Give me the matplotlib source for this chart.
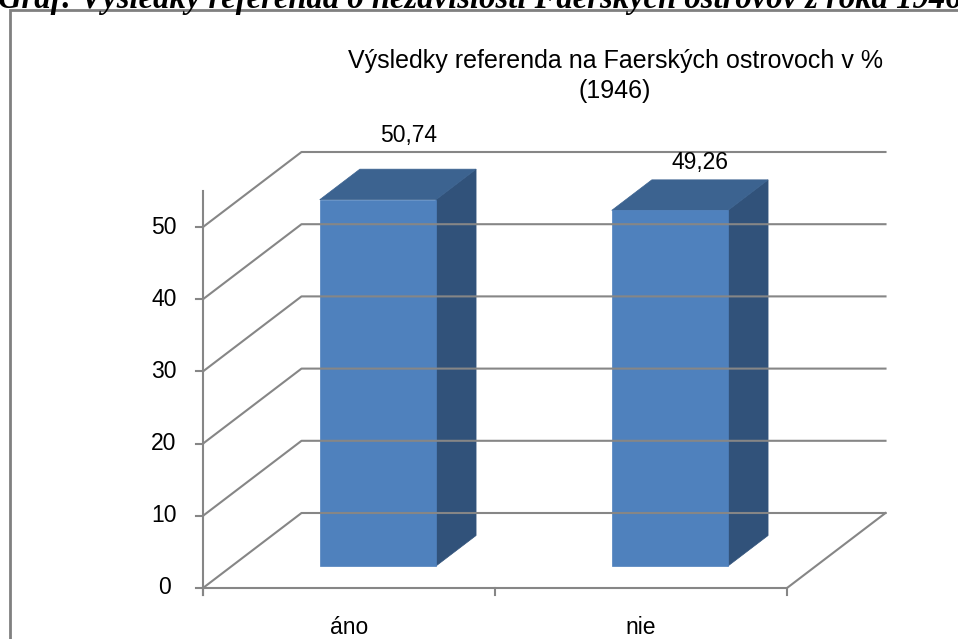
import matplotlib.pyplot as plt
from matplotlib.patches import Polygon, Rectangle

# data
categories = ['áno', 'nie']
values = [50.74, 49.26]
value_labels = ['50,74', '49,26']
y_ticks = [0, 10, 20, 30, 40, 50]
title = 'Výsledky referenda na Faerských ostrovoch v %\n(1946)'
caption = 'Graf: Výsledky referenda o nezávislosti Faerských ostrovov z roka 1946'

W, H = 958, 639
PX_X = 292.0          # pixels per category
PX_Y = 7.22           # pixels per value unit
X0, Y0 = 203, 588     # pixel of (-0.5, 0)
DX = 98.5 / PX_X      # depth offset in category units
DZ = 75 / PX_Y        # depth offset in value units

GRID = '#868686'
FRONT = '#4f81bd'
TOP = '#3c6390'
SIDE = '#31527a'

# label lift above the bar's top back edge, in pixels (Excel dodges the gridline)
label_lift = [34, 17]


def p(x, v, d=0.0):
    # project a point with depth d (0 = front, 1 = back wall)
    return (x + d * DX, v + d * DZ)


def main():
    plt.rcParams['font.family'] = ['Liberation Sans', 'DejaVu Sans']
    fig = plt.figure(figsize=(W / 100, H / 100), dpi=100)
    ax = fig.add_axes([0, 0, 1, 1])
    ax.set_xlim(-0.5 - X0 / PX_X, -0.5 + (W - X0) / PX_X)
    ax.set_ylim(-(H - Y0) / PX_Y, Y0 / PX_Y)
    ax.axis('off')

    xl, xr = -0.5, len(categories) - 0.5

    # gridlines: diagonal on the side wall + horizontal on the back wall
    for v in y_ticks:
        a, b, c = p(xl, v), p(xl, v, 1), p(xr, v, 1)
        ax.plot([a[0], b[0], c[0]], [a[1], b[1], c[1]], color=GRID, lw=1.5)
    # floor
    f = [p(xl, 0), p(xr, 0), p(xr, 0, 1)]
    ax.plot([q[0] for q in f], [q[1] for q in f], color=GRID, lw=1.5)

    # axes
    ax.plot([xl, xl], [-1, 55], color=GRID, lw=1.5)
    tick_len = 7 / PX_X
    for v in y_ticks:
        ax.plot([xl - tick_len, xl], [v, v], color=GRID, lw=1.5)
        ax.text(xl - 39 / PX_X, v, str(v), ha='center', va='center', fontsize=16.5)
    for i in range(len(categories) + 1):
        ax.plot([xl + i, xl + i], [0, -7 / PX_Y], color=GRID, lw=1.5)
    for i, c in enumerate(categories):
        ax.text(i, -39 / PX_Y, c, ha='center', va='center', fontsize=16.5)

    # 3d bars
    half = 0.199
    d1, d2 = 0.293, 0.70
    for i, v in enumerate(values):
        l, r = i - half, i + half
        front = [p(l, 0, d1), p(r, 0, d1), p(r, v, d1), p(l, v, d1)]
        side = [p(r, 0, d1), p(r, 0, d2), p(r, v, d2), p(r, v, d1)]
        top = [p(l, v, d1), p(r, v, d1), p(r, v, d2), p(l, v, d2)]
        ax.add_patch(Polygon(side, closed=True, facecolor=SIDE, edgecolor=SIDE, lw=0.5))
        ax.add_patch(Polygon(top, closed=True, facecolor=TOP, edgecolor=TOP, lw=0.5))
        ax.add_patch(Polygon(front, closed=True, facecolor=FRONT, edgecolor=FRONT, lw=0.5))
        lx, ly = p(i, v, d2)
        ax.text(i + 0.6 * DX, ly + label_lift[i] / PX_Y, value_labels[i],
                ha='center', va='center', fontsize=16.5)

    # title
    fig.text(615 / W, 1 - 76 / H, title, ha='center', va='center', fontsize=18,
             linespacing=1.3)

    # chart border and cut caption above
    fig.patches.append(Rectangle((10 / W, -0.01), 1.0, 1 - 10 / H + 0.01,
                                 transform=fig.transFigure, fill=False,
                                 edgecolor='#808080', lw=2))
    fig.text(-2 / W, 1 - 8 / H, caption, ha='left', va='baseline', fontsize=23.5,
             fontweight='bold', fontstyle='italic', family='Liberation Serif')

    fig.savefig('out.png', dpi=100)


if __name__ == '__main__':
    main()
